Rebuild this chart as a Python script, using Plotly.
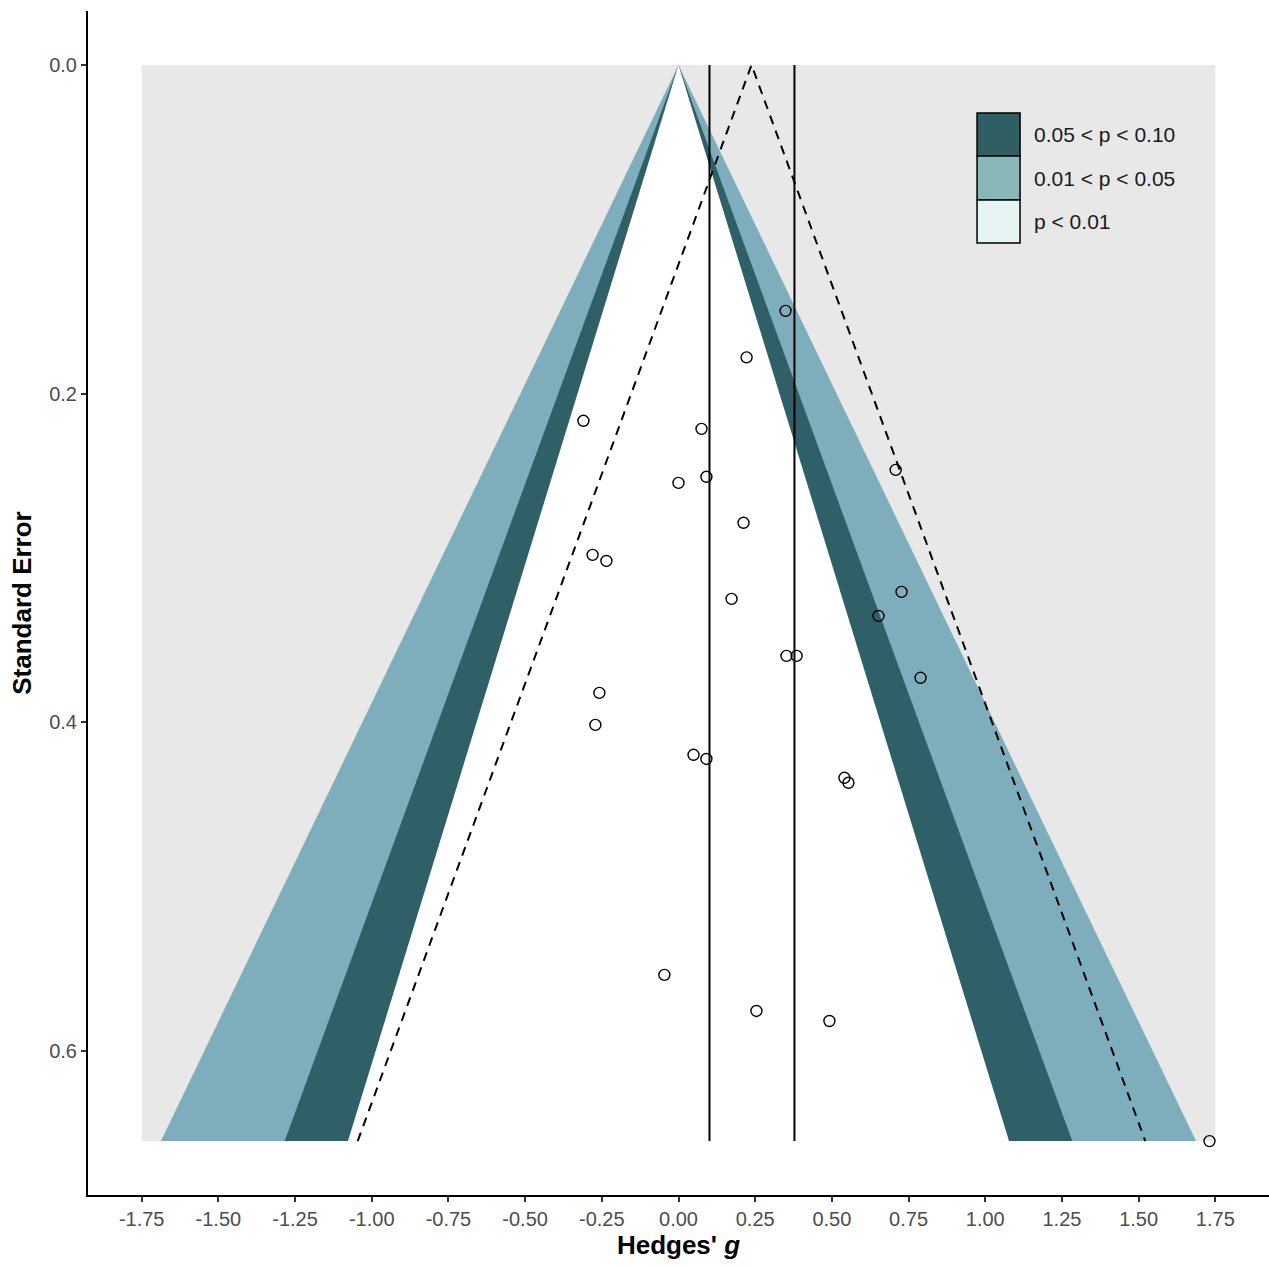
import numpy as np
import plotly.graph_objects as go

# Study effect sizes (Hedges' g) and their standard errors
hedges_g = [0.349, 0.222, -0.310, 0.075, 0.708, 0.000, 0.091, 0.212, -0.280, -0.235,
            0.727, 0.173, 0.652, 0.352, 0.385, 0.789, -0.258, -0.271, 0.049, 0.091,
            0.541, 0.554, -0.046, 0.254, 0.492, 1.731]
std_err = [0.1497, 0.178, 0.2166, 0.2215, 0.2465, 0.2544, 0.2507, 0.2787, 0.2982, 0.3019,
           0.3207, 0.3250, 0.3354, 0.3597, 0.3597, 0.3730, 0.3822, 0.4017, 0.4199, 0.4224,
           0.4339, 0.4369, 0.5538, 0.5758, 0.5819, 0.655]

# Summary estimates drawn as vertical reference lines
ref_lines = [0.101, 0.378]
# Pooled estimate used for the dashed 95% funnel
pooled = 0.238

# Critical z values for the contour bands
z_p10 = 1.645
z_p05 = 1.96
z_p01 = 2.576

x_ticks = [-1.75, -1.5, -1.25, -1.0, -0.75, -0.5, -0.25, 0.0, 0.25, 0.5, 0.75, 1.0, 1.25, 1.5, 1.75]
x_tick_text = ["-1.75", "-1.50", "-1.25", "-1.00", "-0.75", "-0.50", "-0.25", "0.00",
               "0.25", "0.50", "0.75", "1.00", "1.25", "1.50", "1.75"]
y_ticks = [0.0, 0.2, 0.4, 0.6]
y_tick_text = ["0.0", "0.2", "0.4", "0.6"]

legend_labels = ["0.05 < p < 0.10", "0.01 < p < 0.05", "p < 0.01"]
legend_colors = ["#2f5f63", "#8ab8b9", "#e6f4f4"]

GRAY = "#e8e8e8"
BAND_DARK = "#2f6068"
BAND_MED = "#7eaebb"

se_max = max(std_err)
x_lim = 1.75

fig = go.Figure()

# Outer region (p < 0.01)
fig.add_trace(go.Scatter(
    x=[-x_lim, x_lim, x_lim, -x_lim, -x_lim], y=[0, 0, se_max, se_max, 0],
    fill="toself", fillcolor=GRAY, mode="none", hoverinfo="skip", showlegend=False))


def funnel(z, color):
    fig.add_trace(go.Scatter(
        x=[0, -z * se_max, z * se_max, 0], y=[0, se_max, se_max, 0],
        fill="toself", fillcolor=color, mode="none", hoverinfo="skip", showlegend=False))


funnel(z_p01, BAND_MED)
funnel(z_p05, BAND_DARK)
funnel(z_p10, "#ffffff")

# Reference lines
for v in ref_lines:
    fig.add_trace(go.Scatter(x=[v, v], y=[0, se_max], mode="lines",
                             line=dict(color="black", width=2), hoverinfo="skip", showlegend=False))

# Dashed 95% pseudo-confidence funnel around the pooled estimate
fig.add_trace(go.Scatter(
    x=[pooled - z_p05 * se_max, pooled, pooled + z_p05 * se_max],
    y=[se_max, 0, se_max], mode="lines",
    line=dict(color="black", width=2, dash="9px,7px"), hoverinfo="skip", showlegend=False))

# Studies
fig.add_trace(go.Scatter(
    x=hedges_g, y=std_err, mode="markers",
    marker=dict(symbol="circle-open", size=11, color="black", line=dict(width=1.4)),
    showlegend=False))

FONT = "Liberation Sans, Arial, sans-serif"

# Custom legend boxes
box_l, box_r = 0.7528, 0.7892
tops = [0.9139, 0.8775, 0.8404]
bots = [0.8775, 0.8404, 0.8041]
for lab, col, t, b in zip(legend_labels, legend_colors, tops, bots):
    fig.add_shape(type="rect", xref="paper", yref="paper", x0=box_l, x1=box_r, y0=b, y1=t,
                  fillcolor=col, line=dict(color="black", width=1.5), layer="above")
    fig.add_annotation(xref="paper", yref="paper", x=0.7993, y=(t + b) / 2, text=lab,
                       showarrow=False, xanchor="left", yanchor="middle",
                       font=dict(family=FONT, size=21, color="#1a1a1a"))

tick_font = dict(family=FONT, size=20, color="#4d4d4d")
title_font = dict(family=FONT, size=26, color="black")

fig.update_layout(
    width=1269, height=1266,
    margin=dict(l=88, r=0, t=11, b=71),
    paper_bgcolor="white", plot_bgcolor="white",
    xaxis=dict(range=[-1.925, 1.925], tickvals=x_ticks, ticktext=x_tick_text,
               showgrid=False, zeroline=False, showline=True, linecolor="black", linewidth=2,
               ticks="outside", ticklen=5, tickwidth=1.5, tickcolor="#333333",
               tickfont=tick_font, automargin=False,
               title=dict(text="<b>Hedges' <i>g</i></b>", font=title_font, standoff=4)),
    yaxis=dict(range=[0.6878, -0.0328], tickvals=y_ticks, ticktext=y_tick_text,
               showgrid=False, zeroline=False, showline=True, linecolor="black", linewidth=2,
               ticks="outside", ticklen=5, tickwidth=1.5, tickcolor="#333333",
               tickfont=tick_font, automargin=False,
               title=dict(text="<b>Standard Error</b>", font=title_font, standoff=10)),
)

fig.write_html("out.html")
